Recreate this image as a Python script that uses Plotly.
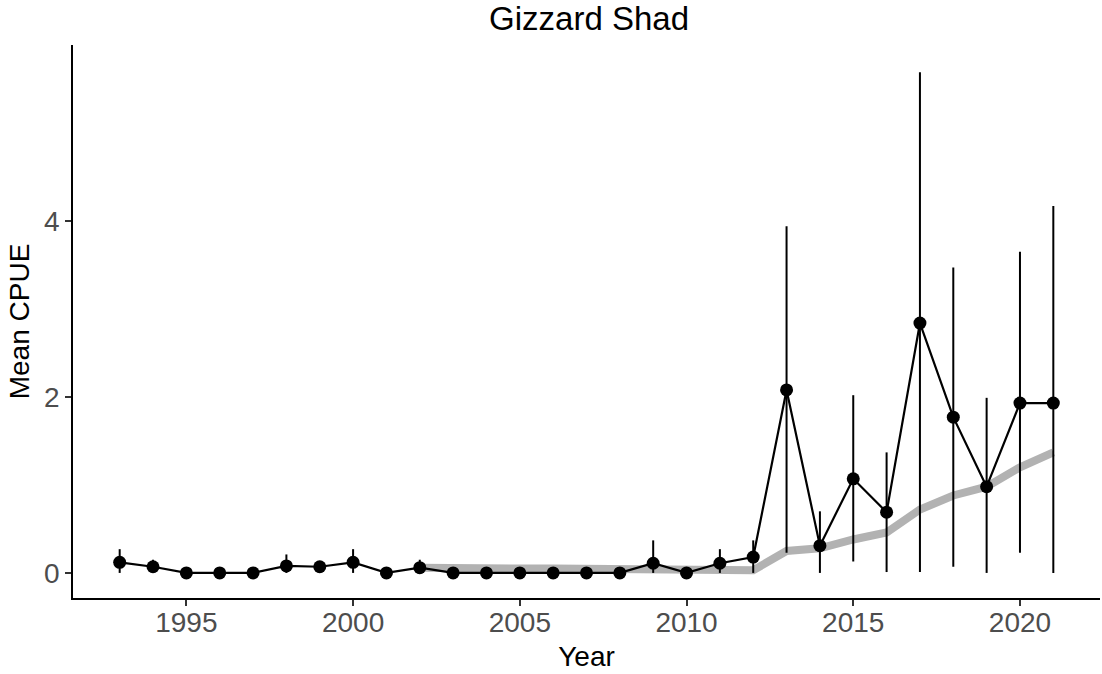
import plotly.graph_objects as go

years = list(range(1993, 2022))
mean_cpue = [0.12, 0.07, 0.0, 0.0, 0.0, 0.08, 0.07, 0.12, 0.0, 0.06,
             0.0, 0.0, 0.0, 0.0, 0.0, 0.0, 0.11, 0.0, 0.11, 0.18,
             2.08, 0.31, 1.07, 0.69, 2.84, 1.77, 0.98, 1.93, 1.93]
upper = [0.27, 0.15, 0.0, 0.0, 0.0, 0.21, 0.09, 0.27, 0.0, 0.15,
         0.0, 0.0, 0.0, 0.0, 0.0, 0.0, 0.37, 0.0, 0.27, 0.37,
         3.94, 0.70, 2.02, 1.37, 5.69, 3.47, 1.99, 3.65, 4.17]
lower = [0.0, 0.0, 0.0, 0.0, 0.0, 0.0, 0.05, 0.0, 0.0, 0.0,
         0.0, 0.0, 0.0, 0.0, 0.0, 0.0, 0.0, 0.0, 0.0, 0.0,
         0.23, 0.0, 0.13, 0.01, 0.01, 0.07, 0.0, 0.23, 0.0]

trend_years = list(range(2002, 2022))
trend = [0.06, 0.05, 0.05, 0.05, 0.05, 0.05, 0.04, 0.04, 0.03, 0.03,
         0.03, 0.25, 0.28, 0.38, 0.46, 0.72, 0.88, 0.98, 1.20, 1.37]

x_ticks = [1995, 2000, 2005, 2010, 2015, 2020]
y_ticks = [0, 2, 4]

plus = [u - m for u, m in zip(upper, mean_cpue)]
minus = [m - l for m, l in zip(mean_cpue, lower)]

fig = go.Figure()
fig.add_trace(go.Scatter(
    x=trend_years, y=trend, mode="lines",
    line=dict(color="#aaaaaa", width=8), opacity=0.9,
    hoverinfo="skip", showlegend=False))
fig.add_trace(go.Scatter(
    x=years, y=mean_cpue, mode="lines+markers",
    line=dict(color="black", width=2.2),
    marker=dict(color="black", size=13),
    error_y=dict(type="data", symmetric=False, array=plus, arrayminus=minus,
                 color="black", thickness=2, width=0),
    showlegend=False))

fig.update_layout(
    width=1102, height=674,
    margin=dict(l=73, r=2, t=45, b=76),
    paper_bgcolor="white", plot_bgcolor="white",
    title=dict(text="Gizzard Shad", x=0.5345, xanchor="center", y=0.973, yanchor="middle",
               font=dict(family="Liberation Sans, Arial", size=33, color="black")),
    font=dict(family="Liberation Sans, Arial"),
)
fig.update_xaxes(
    range=[1991.6, 2022.4], tickvals=x_ticks, ticks="outside", ticklen=6,
    tickwidth=1.5, tickcolor="#333333", showline=True, linecolor="black",
    linewidth=1.5, showgrid=False, zeroline=False, ticklabelstandoff=-7,
    tickfont=dict(size=28, color="#4d4d4d"),
    title=dict(text="Year", font=dict(size=28, color="black"), standoff=9))
fig.update_yaxes(
    range=[-0.285, 6.0], tickvals=y_ticks, ticks="outside", ticklen=6,
    tickwidth=1.5, tickcolor="#333333", showline=True, linecolor="black",
    linewidth=1.5, showgrid=False, zeroline=False,
    tickfont=dict(size=28, color="#4d4d4d"),
    title=dict(text="Mean CPUE", font=dict(size=28, color="black"), standoff=6))

fig.write_html("out.html")
